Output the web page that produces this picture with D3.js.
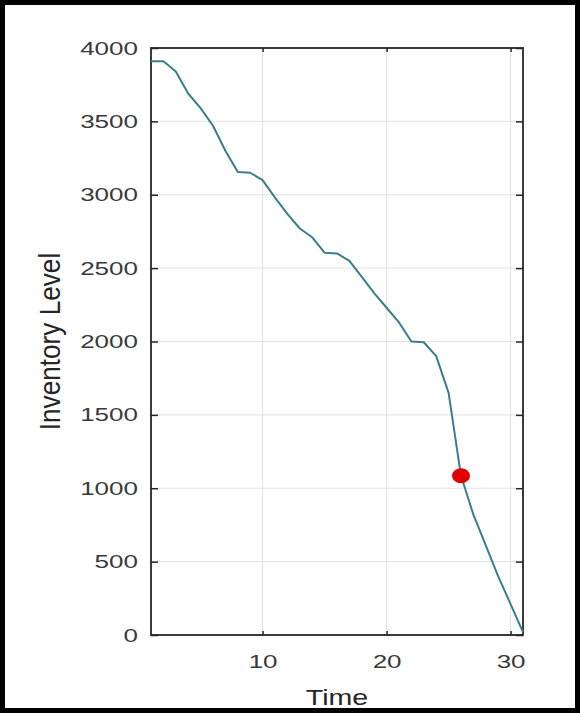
<!DOCTYPE html>
<html><head><meta charset="utf-8">
<script src="https://cdn.jsdelivr.net/npm/d3@7"></script>
<style>body{margin:0;background:#fff}svg{display:block}text{font-family:"Liberation Sans",Arial,sans-serif}</style>
</head><body><svg id="c" width="580" height="713"></svg>
<script>
const days = [1,2,3,4,5,6,7,8,9,10,11,12,13,14,15,16,17,18,19,20,21,22,23,24,25,26,27,28,29,30,31];
const inventory = [3910,3910,3840,3690,3590,3470,3300,3155,3150,3100,2980,2870,2770,2710,2605,2600,2550,2440,2330,2230,2130,2000,1995,1900,1650,1085,820,610,400,210,20];
const markerDay = [26];
const markerLevel = [1085];
const xTicks = [10,20,30];
const yTicks = [0,500,1000,1500,2000,2500,3000,3500,4000];
const xLabel = "Time";
const yLabel = "Inventory Level";

const W = 580, H = 713;
const L = 151, R = 523, T = 48, B = 635;
const SX = 1.37; // horizontal stretch of the source image
const svg = d3.select("#c");
svg.append("rect").attr("width",W).attr("height",H).attr("fill","#fff");

const x = d3.scaleLinear().domain([1,31]).range([L,R]);
const y = d3.scaleLinear().domain([0,4000]).range([B,T]);

// grid
const grid = svg.append("g").attr("stroke","#e2e2e2").attr("stroke-width",1);
grid.selectAll(".gv").data(xTicks).join("line")
  .attr("x1",d=>x(d)).attr("x2",d=>x(d)).attr("y1",T).attr("y2",B);
grid.selectAll(".gh").data(yTicks.filter(d=>d>0&&d<4000)).join("line")
  .attr("x1",L).attr("x2",R).attr("y1",d=>y(d)).attr("y2",d=>y(d));

// axes
const tc = "#262626";
const fmt = d3.format("d");
const gB = svg.append("g").attr("transform",`translate(0,${B})`)
  .call(d3.axisBottom(x).tickValues(xTicks).tickSize(-4).tickPadding(20).tickFormat(fmt));
const gT = svg.append("g").attr("transform",`translate(0,${T})`)
  .call(d3.axisTop(x).tickValues(xTicks).tickSize(-4).tickFormat(""));
const gL = svg.append("g").attr("transform",`translate(${L},0)`)
  .call(d3.axisLeft(y).tickValues(yTicks).tickSize(-7).tickPadding(13).tickFormat(fmt));
const gR = svg.append("g").attr("transform",`translate(${R},0)`)
  .call(d3.axisRight(y).tickValues(yTicks).tickSize(-7).tickFormat(""));
[gB,gT,gL,gR].forEach(g=>{
  g.select(".domain").remove();
  g.selectAll(".tick line").attr("stroke",tc).attr("stroke-width",1.5);
  g.selectAll("text").attr("fill","#3a3a3a").attr("font-size",19).attr("font-family",'"Liberation Sans",Arial,sans-serif');
});
gB.selectAll(".tick text").attr("transform",`scale(${SX},1)`);
gL.selectAll(".tick text").attr("x",-13/SX).attr("transform",`scale(${SX},1)`);

svg.append("rect").attr("x",L).attr("y",T).attr("width",R-L).attr("height",B-T)
  .attr("fill","none").attr("stroke",tc).attr("stroke-width",1.8);

// line
const line = d3.line().x((d,i)=>x(days[i])).y(d=>y(d));
svg.append("path").datum(inventory).attr("d",line)
  .attr("fill","none").attr("stroke","#3a7d8e").attr("stroke-width",2).attr("stroke-linejoin","round");

// marker
svg.selectAll(".mk").data(markerDay).join("ellipse")
  .attr("cx",d=>x(d)).attr("cy",(d,i)=>y(markerLevel[i])).attr("rx",9).attr("ry",7.5)
  .attr("fill","#e00000");

// labels
svg.append("text").attr("transform",`translate(${(L+R)/2},705) scale(1.3,1)`)
  .attr("text-anchor","middle").attr("font-size",22).attr("fill","#262626").text(xLabel);
svg.append("text").attr("transform",`translate(60,${(T+B)/2}) scale(1.35,1.19) rotate(-90)`)
  .attr("text-anchor","middle").attr("font-size",22).attr("fill","#262626").text(yLabel);

// outer frame
svg.append("rect").attr("x",2.5).attr("y",2.5).attr("width",W-5).attr("height",H-5)
  .attr("fill","none").attr("stroke","#000").attr("stroke-width",5);
</script></body></html>
